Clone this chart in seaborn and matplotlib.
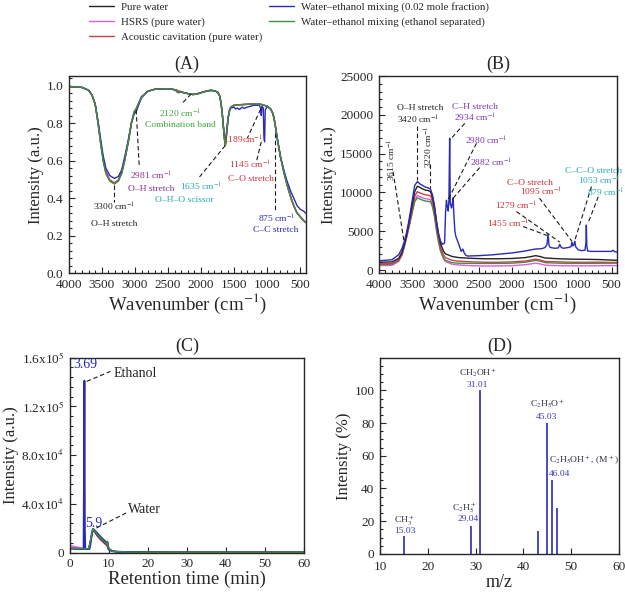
import numpy as np
import pandas as pd
import seaborn as sns
import matplotlib.pyplot as plt
from matplotlib.ticker import AutoMinorLocator, FixedLocator, FixedFormatter

# ---- series names / colours
names = ["Pure water", "HSRS (pure water)", "Acoustic cavitation (pure water)",
         "Water\u2013ethanol mixing (0.02 mole fraction)",
         "Water\u2013ethanol mixing (ethanol separated)"]
colors = ["#222222", "#e05ce0", "#c8424a", "#2a2ab8", "#3f8f3f"]

# ---- (A) FTIR, transmittance
wn_a = [4000, 3800, 3700, 3650, 3600, 3557, 3520, 3482, 3440, 3380, 3310, 3250, 3200,
        3154, 3100, 3053, 3010, 2981, 2950, 2900, 2850, 2800, 2700, 2600, 2500, 2400,
        2370, 2350, 2330, 2300, 2200, 2120, 2050, 2000, 1900, 1850, 1800, 1750, 1720,
        1700, 1680, 1660, 1645, 1635, 1625, 1610, 1590, 1570, 1550, 1500, 1400, 1300,
        1200, 1100, 1050, 1000, 950, 920, 900, 875, 850, 800, 750, 700, 650, 600, 550,
        500, 450, 420]
ir_green = [0.995, 0.99, 0.975, 0.95, 0.90, 0.80, 0.70, 0.60, 0.53, 0.49, 0.475, 0.49, 0.53,
            0.60, 0.70, 0.80, 0.86, 0.875, 0.90, 0.94, 0.955, 0.97, 0.98, 0.982, 0.983, 0.978,
            0.972, 0.962, 0.968, 0.965, 0.957, 0.952, 0.956, 0.962, 0.972, 0.975, 0.972, 0.965, 0.945,
            0.91, 0.85, 0.77, 0.71, 0.68, 0.70, 0.76, 0.83, 0.87, 0.885, 0.895, 0.898, 0.90,
            0.902, 0.90, 0.895, 0.89, 0.875, 0.855, 0.83, 0.78, 0.72, 0.62, 0.54, 0.47, 0.41, 0.36, 0.32,
            0.30, 0.28, 0.27]
ir_black = [0.995, 0.99, 0.975, 0.95, 0.90, 0.80, 0.70, 0.61, 0.54, 0.495, 0.48, 0.495, 0.535,
            0.605, 0.70, 0.80, 0.86, 0.875, 0.90, 0.94, 0.955, 0.97, 0.98, 0.982, 0.983, 0.978,
            0.975, 0.965, 0.968, 0.965, 0.957, 0.952, 0.956, 0.962, 0.972, 0.975, 0.972, 0.965, 0.945,
            0.91, 0.85, 0.77, 0.71, 0.68, 0.70, 0.76, 0.83, 0.87, 0.885, 0.895, 0.898, 0.90,
            0.902, 0.90, 0.895, 0.89, 0.875, 0.855, 0.83, 0.78, 0.72, 0.62, 0.54, 0.47, 0.41, 0.36, 0.32,
            0.30, 0.28, 0.27]
ir_pink = ir_black
ir_red = [0.995, 0.99, 0.975, 0.95, 0.90, 0.80, 0.70, 0.61, 0.54, 0.495, 0.48, 0.495, 0.535,
          0.605, 0.70, 0.80, 0.86, 0.875, 0.90, 0.94, 0.955, 0.97, 0.98, 0.982, 0.983, 0.978,
          0.978, 0.97, 0.972, 0.967, 0.957, 0.952, 0.956, 0.962, 0.972, 0.975, 0.972, 0.965, 0.945,
          0.91, 0.85, 0.77, 0.71, 0.68, 0.70, 0.76, 0.83, 0.87, 0.885, 0.895, 0.898, 0.90,
          0.902, 0.90, 0.895, 0.89, 0.875, 0.855, 0.83, 0.78, 0.72, 0.62, 0.54, 0.47, 0.41, 0.36, 0.32,
          0.30, 0.28, 0.27]
wn_a_blue = [4000, 3800, 3700, 3650, 3600, 3557, 3520, 3482, 3440, 3380, 3310, 3250, 3200,
             3154, 3100, 3053, 3010, 2981, 2950, 2900, 2850, 2800, 2700, 2600, 2500, 2400,
             2350, 2300, 2200, 2120, 2000, 1900, 1800, 1750, 1720, 1700, 1680, 1660, 1645,
             1635, 1625, 1610, 1590, 1570, 1550, 1500, 1480, 1450, 1420, 1380, 1350, 1300,
             1250, 1200, 1120, 1100, 1090, 1080, 1060, 1050, 1040, 1030, 1000, 950, 920, 900,
             875, 850, 800, 750, 700, 650, 600, 550, 500, 450, 420]
ir_blue = [0.995, 0.99, 0.975, 0.95, 0.90, 0.81, 0.72, 0.63, 0.56, 0.52, 0.505, 0.515, 0.55,
           0.62, 0.71, 0.80, 0.85, 0.86, 0.89, 0.935, 0.955, 0.97, 0.98, 0.982, 0.983, 0.978,
           0.962, 0.965, 0.957, 0.952, 0.962, 0.972, 0.972, 0.965, 0.945, 0.91, 0.85, 0.77, 0.72,
           0.70, 0.72, 0.77, 0.83, 0.865, 0.88, 0.885, 0.875, 0.88, 0.872, 0.885, 0.878, 0.885,
           0.89, 0.895, 0.895, 0.88, 0.84, 0.89, 0.88, 0.72, 0.70, 0.87, 0.89, 0.875, 0.855, 0.83,
           0.78, 0.72, 0.62, 0.55, 0.49, 0.44, 0.40, 0.36, 0.34, 0.33, 0.32]

# ---- (B) Raman
wn_b = [4000, 3900, 3800, 3700, 3650, 3615, 3580, 3550, 3500, 3460, 3420, 3380, 3340, 3300,
        3260, 3220, 3190, 3160, 3130, 3100, 3070, 3030, 3000, 2900, 2800, 2600, 2400, 2200,
        2000, 1800, 1700, 1640, 1580, 1500, 1300, 1100, 900, 700, 500, 420]
ra_black = [1000, 1020, 1050, 1500, 2300, 3300, 4600, 5900, 8200, 10100, 10800, 10650, 10450, 10300,
            10250, 10100, 9300, 7900, 6100, 4600, 3400, 2500, 2100, 1750, 1600, 1500, 1450, 1450,
            1480, 1600, 1750, 1850, 1750, 1550, 1450, 1400, 1380, 1350, 1280, 1250]
ra_red = [800, 820, 850, 1300, 2100, 3200, 4400, 5600, 7700, 9500, 10100, 9950, 9800, 9700,
          9650, 9550, 8800, 7400, 5600, 4100, 2900, 2000, 1600, 1250, 1150, 1050, 1000, 1000,
          1050, 1150, 1300, 1400, 1300, 1100, 1050, 1000, 1000, 1000, 980, 980]
ra_pink = [560, 580, 600, 1100, 1900, 3000, 4200, 5300, 7300, 9000, 9600, 9450, 9300, 9200,
           9150, 9050, 8300, 6900, 5100, 3600, 2400, 1500, 1100, 750, 650, 550, 520, 520,
           560, 680, 800, 880, 800, 620, 560, 540, 540, 550, 560, 560]
ra_green = [700, 720, 750, 1200, 2000, 3100, 4300, 5400, 7300, 8800, 9300, 9150, 9000, 8900,
            8850, 8800, 8100, 6800, 5000, 3600, 2500, 1600, 1250, 950, 880, 850, 850, 850,
            880, 1000, 1150, 1250, 1150, 950, 880, 860, 860, 870, 880, 880]
wn_b_blue = [4000, 3900, 3800, 3700, 3650, 3615, 3580, 3550, 3500, 3460, 3420, 3380, 3340, 3300,
             3260, 3220, 3190, 3160, 3130, 3100, 3070, 3040, 3010, 2995, 2982, 2970, 2955, 2945,
             2934, 2925, 2915, 2905, 2895, 2882, 2870, 2855, 2840, 2800, 2760, 2735, 2715, 2690,
             2660, 2500, 2300, 2000, 1800, 1650, 1550, 1500, 1470, 1455, 1440, 1420, 1350, 1300,
             1279, 1260, 1230, 1150, 1110, 1095, 1080, 1065, 1053, 1040, 1000, 950, 900, 885,
             879, 872, 860, 800, 700, 600, 500, 480, 450, 420]
ra_blue = [1200, 1250, 1330, 1970, 2800, 3700, 4900, 6200, 8800, 10900, 11400, 11100, 10900, 10700,
           10600, 10400, 9600, 8200, 6200, 4600, 3700, 3300, 3500, 7500, 9000, 8200, 7600, 9000,
           17000, 8500, 8300, 8000, 8600, 9300, 7000, 5000, 4300, 3400, 2400, 2700, 2200, 1900,
           1800, 1850, 1950, 2200, 2450, 2700, 2750, 2900, 3300, 4600, 3200, 2900, 2800, 2850,
           3300, 2950, 2800, 2900, 3000, 3600, 3100, 3300, 3700, 3000, 2600, 2500, 2550, 3500,
           5800, 3200, 2450, 2400, 2400, 2400, 2400, 2550, 2350, 2300]

# ---- (C) GC chromatogram
t_blue = [0, 1, 2, 3, 3.5, 3.6, 3.69, 3.8, 3.9, 4.5, 5.0, 5.3, 5.6, 5.9, 6.3, 7, 8, 9, 9.4,
          9.5, 9.6, 9.7, 10, 10.5, 11, 12, 14, 20, 30, 40, 50, 60]
gc_blue = [3500, 3300, 3200, 3100, 3100, 60000, 141000, 20000, 3100, 3000, 3100, 8000, 16000,
           19500, 18500, 16000, 12500, 9500, 8000, 7000, 9000, 4000, 2500, 1800, 1200, 900, 600,
           400, 300, 300, 300, 300]
t_w = [0, 1, 2, 3, 4, 4.8, 5.3, 5.9, 6.5, 7, 8, 9, 9.5, 9.6, 9.8, 10.5, 11, 12, 14, 20, 60]
gc_pink = [6000, 5200, 4500, 4000, 3500, 3200, 10000, 18500, 16000, 13500, 10000, 7000, 5500,
           7000, 3500, 2000, 1300, 900, 600, 300, 300]
gc_black = [3500, 3400, 3300, 3200, 3100, 3100, 10500, 19000, 17000, 14500, 11000, 8000, 6500,
            8500, 3800, 2100, 1300, 900, 600, 300, 300]
gc_red = [4000, 3800, 3600, 3400, 3200, 3100, 10300, 18800, 16500, 14000, 10500, 7500, 6000,
          8000, 3600, 2000, 1300, 900, 600, 300, 300]
gc_green = [3600, 3500, 3400, 3300, 3200, 3100, 10800, 19200, 17500, 15000, 11500, 8500, 7000,
            9000, 3800, 2100, 1300, 900, 600, 300, 300]

# ---- (D) mass spectrum
mz = [15, 29, 31, 43, 45, 46, 47]
rel_int = [10.7, 17.0, 100, 14.2, 79.9, 45.2, 28.0]

sns.set_theme(style="ticks")
plt.rcParams["font.family"] = ["Liberation Serif", "DejaVu Serif"]
plt.rcParams["mathtext.fontset"] = "stix"
plt.rcParams["axes.linewidth"] = 1.0

fig = plt.figure(figsize=(6.25, 5.95), dpi=100)
axA = fig.add_axes([0.110, 0.541, 0.379, 0.331])
axB = fig.add_axes([0.606, 0.541, 0.381, 0.331])
axC = fig.add_axes([0.112, 0.071, 0.374, 0.328])
axD = fig.add_axes([0.608, 0.069, 0.382, 0.330])


def draw(ax, x, y, c, label=None, lw=1.0):
    sns.lineplot(x=x, y=y, color=c, ax=ax, lw=lw, sort=False, estimator=None, label=label)


def dash(ax, p0, p1):
    ax.plot([p0[0], p1[0]], [p0[1], p1[1]], ls=(0, (4, 2.5)), color="k", lw=0.8)


def note(ax, x, y, s, c, **kw):
    ax.text(x, y, s, color=c, fontsize=6.8, ha="center", va="center", clip_on=False, **kw)


# (A)
draw(axA, wn_a, ir_black, colors[0], names[0])
draw(axA, wn_a, ir_pink, colors[1], names[1])
draw(axA, wn_a, ir_red, colors[2], names[2])
draw(axA, wn_a_blue, ir_blue, colors[3], names[3])
draw(axA, wn_a, ir_green, colors[4], names[4])
handles, labels = axA.get_legend_handles_labels()
axA.get_legend().remove()
axA.set_xlim(4000, 420)
axA.set_ylim(0, 1.05)
axA.set_yticks([0, 0.2, 0.4, 0.6, 0.8, 1.0])
axA.set_xticks([4000, 3500, 3000, 2500, 2000, 1500, 1000, 500])

dash(axA, (3310, 0.47), (3310, 0.38))
note(axA, 3316, 0.35, "3300 cm$^{-1}$", "#222222")
note(axA, 3316, 0.26, "O\u2013H stretch", "#222222")
dash(axA, (2981, 0.87), (2935, 0.57))
note(axA, 2751, 0.52, "2981 cm$^{-1}$", "#8a2f8a")
note(axA, 2751, 0.45, "O\u2013H stretch", "#8a2f8a")
dash(axA, (2150, 0.955), (2300, 0.90))
note(axA, 2320, 0.847, "2120 cm$^{-1}$", "#3aa83a")
note(axA, 2310, 0.79, "Combination band", "#3aa83a")
dash(axA, (1635, 0.68), (2030, 0.51))
note(axA, 1996, 0.46, "1635 cm$^{-1}$", "#26a9b0")
note(axA, 2248, 0.39, "O\u2013H\u2013O scissor", "#26a9b0")
dash(axA, (1100, 0.874), (1300, 0.72))
note(axA, 1370, 0.71, "1189cm$^{-1}$", "#c8323a")
dash(axA, (1090, 0.70), (1160, 0.60))
note(axA, 1266, 0.576, "1145 cm$^{-1}$", "#c8323a")
note(axA, 1240, 0.50, "C\u2013O stretch", "#c8323a")
dash(axA, (880, 0.745), (880, 0.33))
note(axA, 853, 0.29, "875 cm$^{-1}$", "#2a2ab8")
note(axA, 873, 0.23, "C\u2013C stretch", "#2a2ab8")

# (B)
draw(axB, wn_b, ra_pink, colors[1])
draw(axB, wn_b, ra_green, colors[4])
draw(axB, wn_b, ra_red, colors[2])
draw(axB, wn_b, ra_black, colors[0])
draw(axB, wn_b_blue, ra_blue, colors[3])
axB.set_xlim(4000, 420)
axB.set_ylim(-400, 25000)
axB.set_yticks([0, 5000, 10000, 15000, 20000, 25000])
axB.set_xticks([4000, 3500, 3000, 2500, 2000, 1500, 1000, 500])

note(axB, 3383, 20840, "O\u2013H stretch", "#222222")
note(axB, 3408, 19340, "3420 cm$^{-1}$", "#222222")
dash(axB, (3420, 18600), (3420, 11600))
note(axB, 3248, 15900, "3220 cm$^{-1}$", "#222222", rotation=90)
dash(axB, (3225, 13700), (3225, 10600))
note(axB, 3800, 14190, "3615 cm$^{-1}$", "#222222", rotation=90)
dash(axB, (3785, 12690), (3620, 3680))
note(axB, 2556, 21050, "C\u2013H stretch", "#7a35b8")
note(axB, 2556, 19640, "2934 cm$^{-1}$", "#7a35b8")
dash(axB, (2707, 18910), (2932, 16770))
note(axB, 2380, 16680, "2980 cm$^{-1}$", "#7a35b8")
dash(axB, (2531, 16340), (2958, 9050))
note(axB, 2305, 13850, "2882 cm$^{-1}$", "#7a35b8")
dash(axB, (2482, 13210), (2883, 9260))
note(axB, 1729, 11280, "C\u2013O stretch", "#c8323a")
note(axB, 1553, 10120, "1095 cm$^{-1}$", "#c8323a")
dash(axB, (1583, 9260), (1095, 3700))
note(axB, 1930, 8270, "1279 cm$^{-1}$", "#c8323a")
dash(axB, (1930, 7540), (1279, 3600))
note(axB, 2056, 5960, "1455 cm$^{-1}$", "#c8323a")
dash(axB, (1830, 5610), (1469, 4450))
note(axB, 770, 12780, "C\u2013C\u2013O stretch", "#26a9b0")
note(axB, 690, 11500, "1053 cm$^{-1}$", "#26a9b0")
dash(axB, (802, 10760), (1053, 3800))
note(axB, 590, 9950, "879 cm$^{-1}$", "#26a9b0")
dash(axB, (700, 9450), (853, 6050))

# (C)
draw(axC, t_w, gc_pink, colors[1])
draw(axC, t_w, gc_red, colors[2])
draw(axC, t_w, gc_black, colors[0])
draw(axC, t_blue, gc_blue, colors[3], lw=1.4)
draw(axC, t_w, gc_green, colors[4])
axC.set_xlim(0, 60)
axC.set_ylim(0, 160000)
axC.set_xticks([0, 10, 20, 30, 40, 50, 60])
axC.yaxis.set_major_locator(FixedLocator([0, 40000, 80000, 120000, 160000]))
axC.yaxis.set_major_formatter(FixedFormatter(["0", "4.0x10$^4$", "8.0x10$^4$",
                                              "1.2x10$^5$", "1.6x10$^5$"]))
axC.text(3.85, 154000, "3.69", color="#2a2ab8", fontsize=10, ha="center", va="center")
dash(axC, (4.3, 140500), (10.4, 148700))
axC.text(11.1, 147000, "Ethanol", color="#222222", fontsize=10, ha="left", va="center")
axC.text(6.0, 23800, "5.9", color="#2a2ab8", fontsize=10, ha="center", va="center")
dash(axC, (6.8, 20300), (14.4, 32600))
axC.text(15.0, 35800, "Water", color="#222222", fontsize=10, ha="left", va="center")

# (D)
axD.vlines(mz, 0, rel_int, color="#4a4ac0", lw=1.4)
axD.set_xlim(10, 60)
axD.set_ylim(0, 120)
axD.set_xticks([10, 20, 30, 40, 50, 60])
axD.set_yticks([0, 20, 40, 60, 80, 100])
fl = "#333344"
bl = "#3a3ab8"
for x, y, s, c in [(15.0, 20.5, "CH$_3^+$", fl), (15.2, 13.8, "15.03", bl),
                   (27.7, 28.6, "C$_2$H$_5^+$", fl), (28.5, 21.5, "29.04", bl),
                   (30.5, 110.7, "CH$_2$OH$^+$", fl), (30.4, 103.2, "31.01", bl),
                   (45.0, 91.7, "C$_2$H$_5$O$^+$", fl), (44.9, 83.8, "45.03", bl)]:
    axD.text(x, y, s, color=c, fontsize=6.8, ha="center", va="center")
axD.text(45.3, 57, "C$_2$H$_5$OH$^+$, (M$^+$)", color=fl, fontsize=6.8, ha="left", va="center")
axD.text(45.3, 48.9, "46.04", color=bl, fontsize=6.8, ha="left", va="center")

for ax, t in zip([axA, axB, axC, axD], ["(A)", "(B)", "(C)", "(D)"]):
    ax.set_title(t, fontsize=13, pad=5)
    ax.tick_params(direction="in", which="both", labelsize=9.5, width=0.8)
    ax.tick_params(which="major", length=4, pad=4)
    ax.tick_params(which="minor", length=2)
    for s in ax.spines.values():
        s.set_visible(True)
        s.set_linewidth(1.0)

for ax in [axA, axB]:
    ax.xaxis.set_minor_locator(AutoMinorLocator(5))
    ax.yaxis.set_minor_locator(AutoMinorLocator(5))
    ax.set_xlabel("Wavenumber (cm$^{-1}$)", fontsize=13.5, labelpad=1)
    ax.set_ylabel("Intensity (a.u.)", fontsize=12, labelpad=2)
axC.yaxis.set_minor_locator(AutoMinorLocator(5))
axC.set_xlabel("Retention time (min)", fontsize=13.5, labelpad=0)
axC.set_ylabel("Intensity (a.u.)", fontsize=12, labelpad=2)
axD.yaxis.set_minor_locator(AutoMinorLocator(4))
axD.tick_params(axis="x", pad=5)
axD.set_xlabel("m/z", fontsize=13, labelpad=1)
axD.set_ylabel("Intensity (%)", fontsize=12, labelpad=2)

fig.legend(handles, labels, loc="upper left", bbox_to_anchor=(0.135, 1.004), ncol=2,
           frameon=False, fontsize=7.8, handlelength=2.3, columnspacing=0.6,
           labelspacing=0.5, handletextpad=0.7, borderaxespad=0)

fig.savefig("out.png", dpi=100)
